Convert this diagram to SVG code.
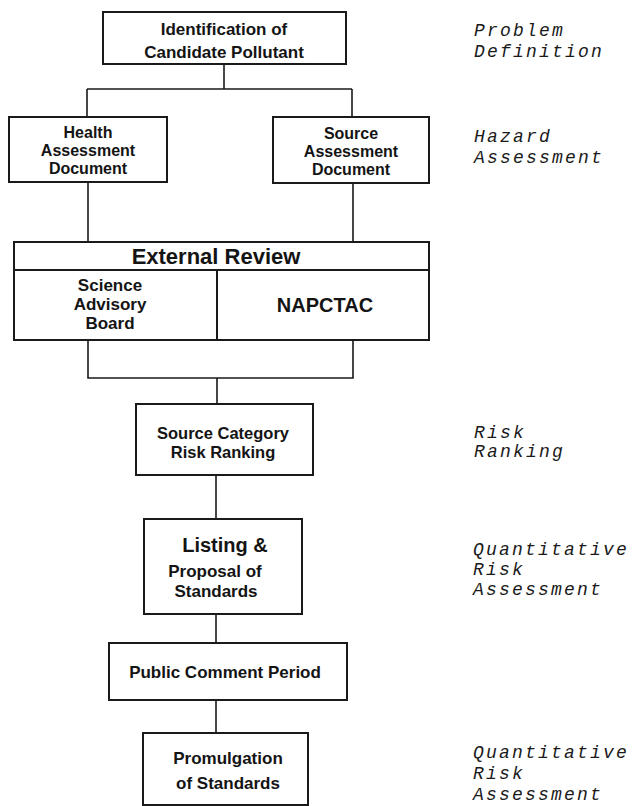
<svg xmlns="http://www.w3.org/2000/svg" width="633" height="806" viewBox="0 0 633 806">
<style>
.box{fill:#fff;stroke:#1a1a1a;stroke-width:2}
.ln{fill:none;stroke:#1a1a1a;stroke-width:1.6}
.t{font-family:"Liberation Sans",Arial,sans-serif;font-weight:bold;fill:#141414;text-anchor:middle;font-size:17px}
.lbl{font-family:"Liberation Mono","Courier New",monospace;font-style:italic;font-size:18px;letter-spacing:2.2px;fill:#1a1a1a}
</style>
<rect width="633" height="806" fill="#fff"/>
<g id="connectors">
<path class="ln" d="M224 64V89M87 89H352M87 89V117M352 89V117"/>
<path class="ln" d="M88 182V242M353 183V242"/>
<path class="ln" d="M88 340V378H353V340M217 378V404"/>
<path class="ln" d="M216 475V519M216 614V643M216 700V733"/>
</g>
<g id="n-identification">
<rect class="box" x="103" y="12" width="243" height="52"/>
<text class="t" x="224" y="35">Identification of</text>
<text class="t" x="224" y="58">Candidate Pollutant</text>
</g>
<g id="n-health">
<rect class="box" x="9" y="117" width="158" height="65"/>
<text class="t" x="88" y="138" style="font-size:16px">Health</text>
<text class="t" x="88" y="156" style="font-size:16px">Assessment</text>
<text class="t" x="88" y="174" style="font-size:16px">Document</text>
</g>
<g id="n-source">
<rect class="box" x="273" y="117" width="156" height="66"/>
<text class="t" x="351" y="139" style="font-size:16px">Source</text>
<text class="t" x="351" y="157" style="font-size:16px">Assessment</text>
<text class="t" x="351" y="175" style="font-size:16px">Document</text>
</g>
<g id="n-external">
<rect class="box" x="14" y="242" width="415" height="98"/>
<path class="box" d="M14 270H429M217 270V340"/>
<text class="t" x="216" y="264" style="font-size:22px">External Review</text>
<text class="t" x="110" y="291" style="font-size:17px">Science</text>
<text class="t" x="110" y="310" style="font-size:17px">Advisory</text>
<text class="t" x="110" y="329" style="font-size:17px">Board</text>
<text class="t" x="325" y="312" style="font-size:20px">NAPCTAC</text>
</g>
<g id="n-ranking">
<rect class="box" x="136" y="404" width="177" height="71"/>
<text class="t" x="223" y="439" style="font-size:16.5px">Source Category</text>
<text class="t" x="223" y="458" style="font-size:16.5px">Risk Ranking</text>
</g>
<g id="n-listing">
<rect class="box" x="144" y="519" width="158" height="95"/>
<text class="t" x="225" y="552" style="font-size:20px">Listing &amp;</text>
<text class="t" x="215" y="577">Proposal of</text>
<text class="t" x="216" y="597">Standards</text>
</g>
<g id="n-public">
<rect class="box" x="109" y="643" width="238" height="57"/>
<text class="t" x="225" y="678">Public Comment Period</text>
</g>
<g id="n-promulgation">
<rect class="box" x="143" y="733" width="165" height="72"/>
<text class="t" x="228" y="764">Promulgation</text>
<text class="t" x="228" y="789">of Standards</text>
</g>
<g id="stage-labels">
<text class="lbl" x="474" y="36">Problem</text>
<text class="lbl" x="474" y="57">Definition</text>
<text class="lbl" x="474" y="142">Hazard</text>
<text class="lbl" x="474" y="163">Assessment</text>
<text class="lbl" x="474" y="438">Risk</text>
<text class="lbl" x="474" y="457">Ranking</text>
<text class="lbl" x="473" y="555">Quantitative</text>
<text class="lbl" x="473" y="575">Risk</text>
<text class="lbl" x="473" y="595">Assessment</text>
<text class="lbl" x="473" y="758">Quantitative</text>
<text class="lbl" x="473" y="779">Risk</text>
<text class="lbl" x="473" y="800">Assessment</text>
</g>
</svg>
